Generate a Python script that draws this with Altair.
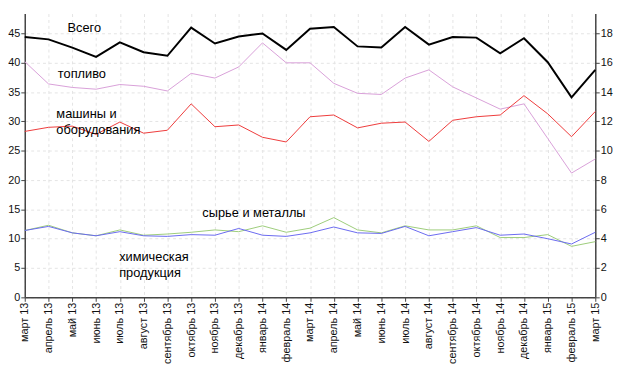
import json
import altair as alt
import pandas as pd

months = ["март 13", "апрель 13", "май 13", "июнь 13", "июль 13", "август 13",
          "сентябрь 13", "октябрь 13", "ноябрь 13", "декабрь 13", "январь 14",
          "февраль 14", "март 14", "апрель 14", "май 14", "июнь 14", "июль 14",
          "август 14", "сентябрь 14", "октябрь 14", "ноябрь 14", "декабрь 14",
          "январь 15", "февраль 15", "март 15"]

# right axis
total = [17.76, 17.6, 17.04, 16.4, 17.4, 16.72, 16.48, 18.4, 17.32, 17.8, 18.0,
         16.88, 18.32, 18.44, 17.12, 17.04, 18.44, 17.24, 17.76, 17.72, 16.64,
         17.68, 16.04, 13.64, 15.52]
# left axis
fuel = [40.2, 36.4, 35.8, 35.5, 36.3, 36.0, 35.2, 38.2, 37.4, 39.3, 43.4, 40.0,
        40.0, 36.5, 34.8, 34.6, 37.4, 38.8, 35.9, 34.0, 32.1, 33.0, 27.1, 21.2, 23.6]
machinery = [28.3, 29.0, 29.2, 27.8, 29.9, 28.0, 28.5, 33.0, 29.1, 29.4, 27.3, 26.5,
             30.8, 31.1, 28.9, 29.7, 29.9, 26.6, 30.2, 30.8, 31.1, 34.4, 31.3, 27.4, 31.7]
metals = [11.4, 12.3, 11.0, 10.5, 11.5, 10.6, 10.8, 11.1, 11.5, 11.2, 12.2, 11.1,
          11.8, 13.6, 11.5, 11.0, 12.2, 11.5, 11.5, 12.2, 10.2, 10.2, 10.7, 8.7, 9.5]
chemicals = [11.4, 12.1, 11.0, 10.5, 11.2, 10.5, 10.4, 10.7, 10.6, 11.75, 10.6, 10.4,
             11.0, 12.0, 11.0, 10.9, 12.1, 10.5, 11.2, 11.9, 10.6, 10.8, 10.0, 9.1, 11.1]

series_names = ["топливо", "машины и оборудования", "сырье и металлы", "химическая продукция"]
series_colors = ["#d8a0d8", "#ee3a3a", "#9ccc7a", "#6a6af0"]

label_text = ["Всего", "топливо", "машины и", "оборудования", "сырье и металлы",
              "химическая", "продукция"]
label_x = [1.8, 1.39, 1.33, 1.33, 7.47, 3.97, 3.97]
label_y = [46.0, 38.0, 31.3, 28.5, 14.4, 6.9, 4.15]

idx = list(range(len(months)))
rows = []
for name, vals in zip(series_names, [fuel, machinery, metals, chemicals]):
    for i, v in zip(idx, vals):
        rows.append({"i": i, "v": v, "s": name})
shares = pd.DataFrame(rows)
tot = pd.DataFrame({"i": idx, "t": total})
labels = pd.DataFrame({"i": label_x, "v": label_y, "txt": label_text})

FONT = "Liberation Sans"
label_expr = json.dumps(months, ensure_ascii=False) + "[datum.value]"

x_scale = alt.Scale(domain=[0, 24], nice=False, zero=False)
y_left = alt.Scale(domain=[0, 48.4], nice=False)
y_right = alt.Scale(domain=[0, 19.36], nice=False)

x_axis = alt.Axis(values=idx, labelExpr=label_expr, labelAngle=-90, title=None,
                  grid=True, gridDash=[3, 3], gridColor="#e4e4e4",
                  domainColor="#444", domainWidth=1.5, tickColor="#444",
                  tickSize=4, labelFont=FONT, labelFontSize=11, labelColor="#111",
                  labelPadding=1)
y_axis = alt.Axis(values=[0, 5, 10, 15, 20, 25, 30, 35, 40, 45], title=None,
                  grid=True, gridDash=[3, 3], gridColor="#e4e4e4",
                  domainColor="#444", domainWidth=1.5, tickColor="#444",
                  tickSize=4, labelFont=FONT, labelFontSize=11,
                  labelColor="#111", labelPadding=1)

lines = alt.Chart(shares).mark_line(strokeWidth=1).encode(
    x=alt.X("i:Q", scale=x_scale, axis=x_axis),
    y=alt.Y("v:Q", scale=y_left, axis=y_axis),
    color=alt.Color("s:N", scale=alt.Scale(domain=series_names, range=series_colors),
                    legend=None),
    detail="s:N",
)

texts = alt.Chart(labels).mark_text(align="left", baseline="middle", font=FONT,
                                    fontSize=13, color="#000").encode(
    x=alt.X("i:Q", scale=x_scale, axis=x_axis),
    y=alt.Y("v:Q", scale=y_left, axis=y_axis),
    text="txt:N",
)

total_line = alt.Chart(tot).mark_line(strokeWidth=2, color="#000").encode(
    x=alt.X("i:Q", scale=x_scale, axis=x_axis),
    y=alt.Y("t:Q", scale=y_right,
            axis=alt.Axis(orient="right", values=[0, 2, 4, 6, 8, 10, 12, 14, 16, 18],
                          title=None, grid=False, domainColor="#444", domainWidth=1.5,
                          tickColor="#444", tickSize=4, labelFont=FONT,
                          labelFontSize=11, labelColor="#111", labelPadding=1)),
)

chart = alt.layer(alt.layer(lines, texts), total_line).resolve_scale(
    y="independent"
).properties(
    width=579, height=288,
    autosize=alt.AutoSizeParams(type="none"),
    padding={"left": 17, "top": 3, "right": 20, "bottom": 66},
    background="white",
).configure_view(stroke=None)

chart.save("out.html", embed_options={"renderer": "svg", "actions": False})
